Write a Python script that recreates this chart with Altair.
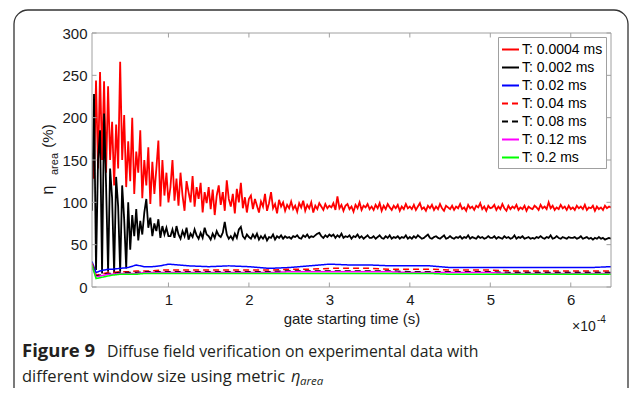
import altair as alt
import pandas as pd

# ---------------- data ----------------
series_names = ["T: 0.0004 ms", "T: 0.002 ms", "T: 0.02 ms", "T: 0.04 ms",
                "T: 0.08 ms", "T: 0.12 ms", "T: 0.2 ms"]
series_colors = ["#ff0000", "#000000", "#0000ff", "#ff0000", "#000000", "#ff00ff", "#00ff00"]
series_dash = [[1, 0], [1, 0], [1, 0], [6, 4], [6, 4], [1, 0], [1, 0]]
series_width = [1.8, 1.8, 1.5, 1.5, 1.5, 1.5, 1.5]

# sample times (x 1e-4 s) for the two noisy series: every 0.025
x_dense = [round(0.05 + 0.025 * i, 4) for i in range(259)]
# sample times for the smooth series
x_coarse = [0.05, 0.1, 0.15, 0.2, 0.25, 0.3, 0.4, 0.5, 0.6, 0.7, 0.8, 0.9, 1.0] + \
           [round(1.25 + 0.25 * i, 4) for i in range(22)]

red_0004 = [
    # 0.05 - 1.0
    158, 128, 244, 140, 254, 150, 243, 135, 237, 150,
    195, 120, 192, 140, 266, 150, 203, 118, 172, 125,
    200, 110, 160, 135, 185, 105, 150, 120, 165, 98,
    148, 110, 140, 173, 95, 150, 108, 135, 100,
    # 1.025 - 6.5
    118, 150, 102, 128, 96, 135, 108, 90, 125, 112, 100, 131, 95, 118, 104, 123, 88, 112, 99, 118,
    92, 115, 85, 108, 120, 97, 112, 90, 126, 104, 95, 110, 87, 116, 100, 123, 93, 106, 88, 104,
    108, 92, 104, 96, 88, 101, 95, 110, 90, 99, 112, 93, 98, 87, 103, 95, 100, 90, 97, 93,
    101, 92, 96, 89, 99, 94, 102, 90, 97, 93, 100, 88, 96, 92, 99, 95, 91, 98, 93, 96,
    94, 99, 91, 107, 93, 97, 90, 96, 98, 92, 95, 89, 97, 93, 100, 91, 96, 94, 98, 92,
    95, 91, 97, 93, 99, 90, 96, 92, 98, 94, 91, 96, 93, 97, 90, 95, 92, 98, 93, 95,
    92, 97, 91, 95, 99, 92, 94, 90, 96, 93, 97, 91, 95, 92, 98, 93, 90, 96, 94, 92,
    96, 91, 95, 93, 98, 92, 94, 90, 97, 93, 95, 91, 96, 94, 99, 92, 95, 90, 96, 93,
    94, 97, 91, 95, 92, 98, 93, 90, 96, 92, 95, 93, 97, 91, 94, 92, 96, 90, 95, 93,
    92, 96, 94, 91, 97, 93, 95, 92, 100, 93, 96, 91, 94, 92, 97, 93, 95, 91, 96, 92,
    94, 91, 96, 93, 95, 92, 97, 91, 94, 93, 96, 90, 95, 92, 94, 91, 96, 93, 95, 94,
]
black_002 = [
    # 0.05 - 1.0
    90, 228, 20, 150, 185, 16, 205, 120, 18, 140,
    105, 16, 130, 95, 18, 120, 80, 22, 100, 44,
    85, 60, 92, 55, 78, 62, 88, 104, 70, 82,
    60, 75, 66, 80, 58, 72, 62, 70, 60,
    # 1.025 - 6.5
    60, 68, 58, 72, 62, 57, 66, 60, 70, 56, 63, 59, 68, 61, 57, 64, 58, 70, 62, 60,
    56, 63, 58, 66, 61, 59, 64, 77, 62, 57, 60, 56, 63, 58, 68, 71, 60, 57, 62, 59,
    57, 62, 58, 63, 56, 60, 57, 61, 55, 59, 58, 62, 56, 60, 58, 61, 57, 60, 58, 59,
    57, 60, 59, 61, 58, 57, 61, 59, 62, 58, 60, 59, 61, 63, 64, 60, 58, 61, 59, 62,
    60, 62, 58, 61, 59, 63, 58, 60, 59, 61, 57, 60, 59, 62, 58, 60, 57, 59, 61, 58,
    58, 60, 57, 59, 61, 58, 57, 60, 58, 61, 57, 59, 58, 60, 57, 59, 58, 61, 57, 59,
    57, 60, 58, 61, 59, 57, 58, 60, 62, 58, 57, 59, 60, 58, 57, 59, 61, 57, 58, 60,
    58, 57, 59, 58, 60, 57, 59, 58, 61, 57, 59, 58, 57, 60, 58, 59, 57, 58, 60, 58,
    58, 60, 57, 59, 58, 57, 60, 58, 59, 57, 58, 61, 57, 59, 58, 60, 57, 58, 59, 57,
    58, 57, 59, 58, 60, 58, 57, 59, 58, 61, 57, 58, 60, 58, 57, 59, 58, 57, 59, 58,
    58, 59, 57, 58, 60, 57, 58, 59, 57, 58, 56, 58, 57, 59, 57, 58, 56, 57, 58, 57,
]
blue_002 = [30, 17, 19, 20, 21, 21, 22, 23, 26, 24, 24, 25, 27,
            25, 24, 25, 24, 22, 23, 25, 27, 26, 26, 25, 25, 25, 23, 23, 23, 23, 23, 23, 23, 23, 24]
red_004 = [28, 14, 15, 16, 17, 17, 18, 18, 19, 19, 19, 20, 20,
           20, 20, 20, 20, 20, 21, 21, 22, 22, 22, 21, 21, 21, 20, 20, 20, 19, 19, 19, 19, 19, 19]
black_008 = [25, 13, 14, 15, 16, 16, 17, 17, 17, 18, 18, 18, 18,
             18, 18, 18, 18, 18, 19, 19, 19, 19, 19, 19, 18, 18, 18, 18, 18, 17, 17, 17, 17, 17, 17]
magenta_012 = [24, 12, 13, 14, 15, 15, 16, 16, 16, 17, 17, 17, 17,
               17, 17, 17, 17, 17, 18, 18, 18, 18, 18, 18, 17, 17, 17, 17, 17, 16, 16, 16, 16, 16, 16]
green_02 = [26, 10, 11, 12, 13, 14, 15, 15, 15, 16, 16, 16, 16,
            16, 16, 16, 16, 16, 16, 16, 16, 16, 16, 16, 16, 16, 15, 15, 15, 15, 15, 15, 15, 15, 15]

x_ticks = [1, 2, 3, 4, 5, 6]
y_ticks = [0, 50, 100, 150, 200, 250, 300]

series_values = [red_0004, black_002, blue_002, red_004, black_008, magenta_012, green_02]
series_x = [x_dense, x_dense, x_coarse, x_coarse, x_coarse, x_coarse, x_coarse]

rows = []
for name, xs, vs in zip(series_names, series_x, series_values):
    for i, (xv, vv) in enumerate(zip(xs, vs)):
        rows.append({"x": xv, "v": vv, "s": name, "i": i})
df = pd.DataFrame(rows)

# ---------------- layout ----------------
W, H = 519, 254
FONT = "Liberation Sans"

xscale = alt.Scale(domain=[0.05, 6.5], nice=False, zero=False)
yscale = alt.Scale(domain=[0, 300], nice=False, zero=False)
xaxis = alt.Axis(values=x_ticks, ticks=False, domain=False, grid=False, labelFont=FONT,
                 labelFontSize=15, labelColor="#1a1a1a", labelPadding=5,
                 title="gate starting time (s)", titleFont=FONT, titleFontSize=15,
                 titleFontWeight="normal", titleColor="#1a1a1a", titlePadding=4)
yaxis = alt.Axis(values=y_ticks, ticks=False, domain=False, grid=False, labelFont=FONT,
                 labelFontSize=15, labelColor="#1a1a1a", labelPadding=5, title=None)

color_scale = alt.Scale(domain=series_names, range=series_colors)
dash_scale = alt.Scale(domain=series_names, range=series_dash)
legend = alt.Legend(title=None, orient="none", legendX=406, legendY=4, fillColor="white",
                    strokeColor="#a0a0a0", padding=3, labelFont=FONT, labelFontSize=14,
                    labelColor="black", symbolType="stroke", symbolSize=289,
                    symbolStrokeWidth=2, rowPadding=1, labelOffset=2, cornerRadius=0)

layers = []

# outer figure frame
frame = alt.Chart(pd.DataFrame({"a": [0]})).mark_rect(
    fill="white", fillOpacity=0, stroke="#333333", strokeWidth=1.3, cornerRadius=14
).encode(x=alt.value(-78), x2=alt.value(536), y=alt.value(-23), y2=alt.value(420))
layers.append(frame)

for name, w in zip(series_names, series_width):
    ln = alt.Chart(df).transform_filter(alt.datum.s == name).mark_line(
        strokeWidth=w, clip=True
    ).encode(
        x=alt.X("x:Q", scale=xscale, axis=xaxis),
        y=alt.Y("v:Q", scale=yscale, axis=yaxis),
        color=alt.Color("s:N", scale=color_scale, legend=legend),
        strokeDash=alt.StrokeDash("s:N", scale=dash_scale, legend=legend),
        order="i:Q",
    )
    layers.append(ln)

# plot box
box = alt.Chart(pd.DataFrame({"a": [0]})).mark_rect(
    fill="white", fillOpacity=0, stroke="#a0a0a0", strokeWidth=1
).encode(x=alt.value(0), x2=alt.value(W), y=alt.value(0), y2=alt.value(H))
layers.append(box)

xt = pd.DataFrame({"t": x_ticks})
yt = pd.DataFrame({"t": y_ticks})
for y0, y1 in [(H, H - 4.5), (0, 4.5)]:
    layers.append(alt.Chart(xt).mark_rule(color="#a0a0a0", strokeWidth=1).encode(
        x=alt.X("t:Q", scale=xscale, axis=xaxis), y=alt.value(y0), y2=alt.value(y1)))
for x0, x1 in [(0, 4.5), (W, W - 4.5)]:
    layers.append(alt.Chart(yt).mark_rule(color="#a0a0a0", strokeWidth=1).encode(
        y=alt.Y("t:Q", scale=yscale, axis=yaxis), x=alt.value(x0), x2=alt.value(x1)))


def txt(text, x, y, size=15, font=FONT, weight="normal", style="normal", angle=0,
        align="left", baseline="alphabetic", color="#1a1a1a"):
    return alt.Chart(pd.DataFrame({"a": [0]})).mark_text(
        text=text, font=font, fontSize=size, fontWeight=weight, fontStyle=style,
        angle=angle, align=align, baseline=baseline, color=color
    ).encode(x=alt.value(x), y=alt.value(y))


# y-axis title: eta_area (%)
layers.append(txt("η", -44, 157, size=16, angle=270, align="center", baseline="middle"))
layers.append(txt("area", -37.5, 131, size=11, angle=270, align="center", baseline="middle"))
layers.append(txt("(%)", -44, 103, size=15, angle=270, align="center", baseline="middle"))

# x exponent
layers.append(txt("×10", 480, 298, size=14))
layers.append(txt("-4", 505, 290, size=10))

# caption
CAP = "Open Sans"
CAPC = "#231f20"
layers.append(txt("Figure 9", -70, 324, size=18.5, font=CAP, weight="bold", color=CAPC))
layers.append(txt("Diffuse field verification on experimental data with", 15, 324, size=15.8,
                  font=CAP, color=CAPC))
layers.append(txt("different window size using metric", -70, 349, size=16.5, font=CAP, color=CAPC))
layers.append(txt("η", 199, 349, size=16.5, font=CAP, style="italic", color=CAPC))
layers.append(txt("area", 208, 352, size=11.5, font=CAP, style="italic", color=CAPC))

chart = alt.layer(*layers).properties(
    width=W, height=H,
    autosize=alt.AutoSizeParams(type="none"),
    padding={"left": 84, "top": 25, "right": 18, "bottom": 101},
    background="white",
).configure_view(strokeWidth=0)

chart.save("out.html", embed_options={"renderer": "svg", "actions": False})
